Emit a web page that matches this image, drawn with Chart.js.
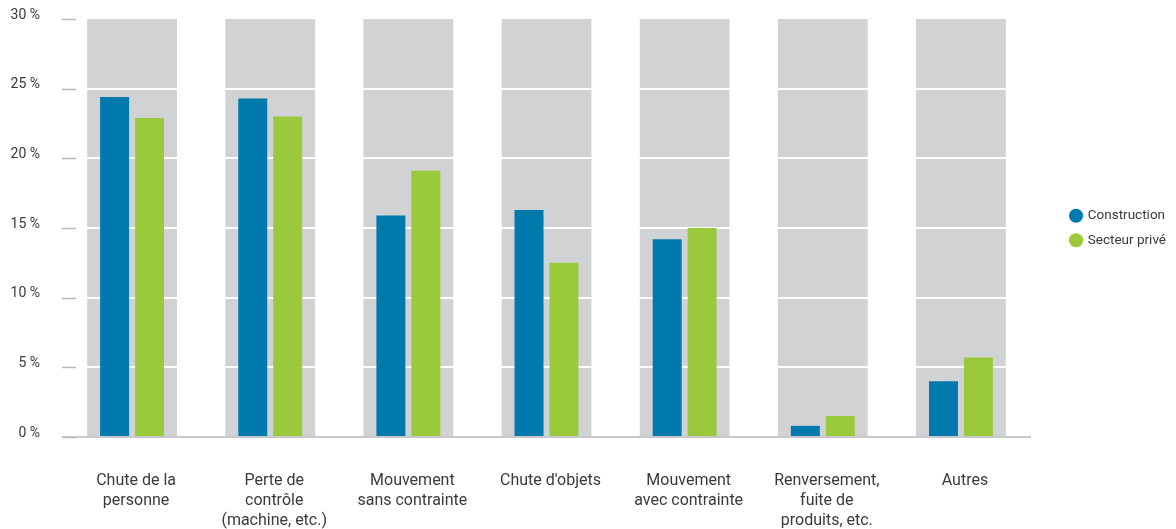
<!DOCTYPE html>
<html lang="fr">
<head>
<meta charset="utf-8">
<title>Accidents par type</title>
<script src="https://cdn.jsdelivr.net/npm/chart.js@4/dist/chart.umd.min.js"></script>
<style>
  html, body { margin: 0; padding: 0; background: #fff; }
  #wrap { width: 1176px; height: 529px; position: relative; }
</style>
</head>
<body>
<div id="wrap"><canvas id="chart"></canvas></div>
<script>
// categories et valeurs (%)
var categories = [
    ['Chute de la', 'personne'],
    ['Perte de', 'contrôle', '(machine, etc.)'],
    ['Mouvement', 'sans contrainte'],
    ["Chute d'objets"],
    ['Mouvement', 'avec contrainte'],
    ['Renversement,', 'fuite de', 'produits, etc.'],
    ['Autres']
];
var construction = [24.4, 24.3, 15.9, 16.3, 14.2, 0.8, 4.0];
var secteurPrive = [22.9, 23.0, 19.1, 12.5, 15.0, 1.5, 5.7];
var yTicks = [0, 5, 10, 15, 20, 25, 30];

var textColor = '#3a3a3a';
Chart.defaults.font.family = "Roboto, 'Liberation Sans', sans-serif";
Chart.defaults.color = textColor;

// fonds gris derriere chaque categorie + petits traits de graduation
var columnBackground = {
    id: 'columnBackground',
    beforeDraw: function(chart) {
        var ctx = chart.ctx, x = chart.scales.x, y = chart.scales.y;
        var half = (x.getPixelForValue(1) - x.getPixelForValue(0)) * 0.325;
        var top = y.getPixelForValue(yTicks[yTicks.length - 1]);
        var bottom = y.getPixelForValue(0);
        ctx.save();
        ctx.fillStyle = '#d1d2d4';
        for (var i = 0; i < categories.length; i++) {
            var cx = x.getPixelForValue(i);
            ctx.fillRect(cx - half, top, half * 2, bottom - top);
        }
        ctx.restore();
    },
    afterDraw: function(chart) {
        var ctx = chart.ctx, y = chart.scales.y;
        var left = chart.chartArea.left;
        ctx.save();
        ctx.strokeStyle = '#b9b9bd';
        ctx.lineWidth = 1.5;
        yTicks.forEach(function(v) {
            var py = Math.round(y.getPixelForValue(v)) + 0.5;
            ctx.beginPath();
            ctx.moveTo(left - 1, py);
            ctx.lineTo(left + 13, py);
            ctx.stroke();
        });
        ctx.restore();
    }
};

new Chart(document.getElementById('chart'), {
    type: 'bar',
    data: {
        labels: categories,
        datasets: [{
            label: 'Construction',
            data: construction,
            backgroundColor: '#0079ad',
            borderWidth: 0
        }, {
            label: 'Secteur privé',
            data: secteurPrive,
            backgroundColor: '#9aca3c',
            borderWidth: 0
        }]
    },
    options: {
        responsive: true,
        maintainAspectRatio: false,
        animation: false,
        categoryPercentage: 0.506,
        barPercentage: 0.829,
        layout: { padding: { top: 19, right: 0, bottom: 0, left: 0 } },
        plugins: {
            tooltip: { enabled: false },
            legend: {
                position: 'right',
                fullSize: false,
                labels: {
                    usePointStyle: true,
                    pointStyle: 'circle',
                    boxWidth: 10,
                    boxHeight: 10,
                    padding: 11,
                    color: textColor,
                    font: { size: 13.5 }
                }
            }
        },
        scales: {
            x: {
                grid: { display: false },
                border: { display: true, color: '#c8c8ce', width: 2 },
                ticks: {
                    padding: 26,
                    labelOffset: 4,
                    maxRotation: 0,
                    autoSkip: false,
                    color: textColor,
                    font: { size: 16, lineHeight: 1.25 }
                },
                afterFit: function(scale) { scale.height = 92; }
            },
            y: {
                min: 0,
                max: 30,
                border: { display: false },
                grid: {
                    drawTicks: true,
                    tickLength: 23,
                    tickColor: 'rgba(0,0,0,0)',
                    lineWidth: 2,
                    color: function(c) {
                        return (c.tick && (c.tick.value === 0 || c.tick.value === 30)) ? 'rgba(0,0,0,0)' : '#ffffff';
                    }
                },
                afterBuildTicks: function(scale) {
                    scale.ticks = yTicks.map(function(v) { return { value: v }; });
                },
                ticks: {
                    padding: 0,
                    labelOffset: -4,
                    color: textColor,
                    font: { size: 14 },
                    callback: function(v) { return v + ' %'; }
                },
                afterFit: function(scale) { scale.width = 63; }
            },
            // espace entre la zone du graphique et la legende
            gap: {
                position: 'right',
                display: true,
                grid: { display: false },
                border: { display: false },
                ticks: { display: false },
                afterFit: function(scale) { scale.width = 30; }
            }
        }
    },
    plugins: [columnBackground]
});
</script>
</body>
</html>
